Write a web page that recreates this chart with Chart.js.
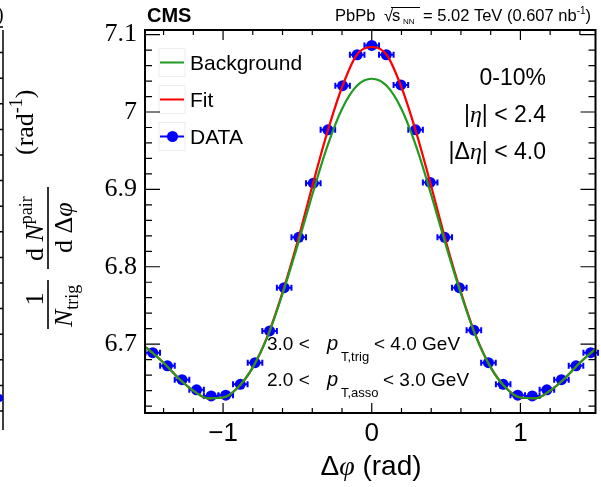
<!DOCTYPE html>
<html>
<head>
<meta charset="utf-8">
<script src="https://cdn.jsdelivr.net/npm/chart.js@4.4.1/dist/chart.umd.min.js"></script>
<style>
  html, body { margin: 0; padding: 0; background: #fff; }
  #wrap { width: 601px; height: 487px; position: relative; }
</style>
</head>
<body>
<div id="wrap"><canvas id="c" width="601" height="487"></canvas></div>
<script>
// bin centres (rad) and per-trigger pair yields
const dphi = [-1.473, -1.374, -1.276, -1.178, -1.080, -0.982, -0.884, -0.785, -0.687, -0.589, -0.491, -0.393, -0.295, -0.196, -0.098,
  0, 0.098, 0.196, 0.295, 0.393, 0.491, 0.589, 0.687, 0.785, 0.884, 0.982, 1.080, 1.178, 1.276, 1.374, 1.473];
const yields = [6.689, 6.672, 6.654, 6.641, 6.633, 6.634, 6.648, 6.676, 6.717, 6.773, 6.838, 6.908, 6.977, 7.034, 7.074,
  7.086, 7.074, 7.035, 6.977, 6.909, 6.838, 6.773, 6.718, 6.676, 6.648, 6.634, 6.633, 6.641, 6.654, 6.672, 6.689];
const binHalfWidth = 0.049;

// fitted curves, sampled along the drawn lines
const curveX = [-1.55, -1.5, -1.4, -1.3, -1.2, -1.1, -1.0, -0.9, -0.8, -0.7, -0.6, -0.5, -0.4, -0.3, -0.2, -0.1,
  0, 0.1, 0.2, 0.3, 0.4, 0.5, 0.6, 0.7, 0.8, 0.9, 1.0, 1.1, 1.2, 1.3, 1.4, 1.5, 1.55];
const background = [6.700, 6.693, 6.676, 6.656, 6.640, 6.630, 6.631, 6.644, 6.670, 6.710, 6.765, 6.827, 6.893, 6.955, 7.004, 7.034,
  7.043, 7.034, 7.004, 6.955, 6.893, 6.827, 6.765, 6.710, 6.670, 6.644, 6.631, 6.630, 6.640, 6.656, 6.676, 6.693, 6.700];
const fit = [6.700, 6.693, 6.676, 6.656, 6.640, 6.630, 6.631, 6.644, 6.670, 6.711, 6.767, 6.832, 6.904, 6.973, 7.032, 7.074,
  7.084, 7.074, 7.032, 6.973, 6.904, 6.832, 6.767, 6.711, 6.670, 6.644, 6.631, 6.630, 6.640, 6.656, 6.676, 6.693, 6.700];

const xTicks = [-1, 0, 1];
const yTicks = [6.7, 6.8, 6.9, 7.0, 7.1];

const BLUE = '#0000ff', RED = '#ff0000', GREEN = '#1f9b1f';
const SANS = '"Liberation Sans", Arial, sans-serif';
const SERIF = '"Liberation Serif", "Times New Roman", serif';

function runs(ctx, x, y, parts) {
  for (const p of parts) {
    ctx.font = p.f;
    ctx.fillText(p.t, x + (p.dx || 0), y + (p.dy || 0));
    x += ctx.measureText(p.t).width + (p.dx || 0);
  }
  return x;
}
function runsWidth(ctx, parts) {
  let w = 0;
  parts.forEach(p => { ctx.font = p.f; w += ctx.measureText(p.t).width + (p.dx || 0); });
  return w;
}

const errorBars = {
  id: 'errorBars',
  beforeDatasetDraw(chart, args) {
    if (args.index !== 0) return;
    const { ctx, scales: { x, y } } = chart;
    ctx.save();
    ctx.strokeStyle = BLUE; ctx.lineWidth = 2;
    dphi.forEach((v, i) => {
      const px0 = x.getPixelForValue(v - binHalfWidth), px1 = x.getPixelForValue(v + binHalfWidth);
      const py = y.getPixelForValue(yields[i]);
      ctx.beginPath();
      ctx.moveTo(px0, py); ctx.lineTo(px1, py);
      ctx.moveTo(px0, py - 3); ctx.lineTo(px0, py + 3);
      ctx.moveTo(px1, py - 3); ctx.lineTo(px1, py + 3);
      ctx.stroke();
    });
    ctx.restore();
  }
};

const frameAndText = {
  id: 'frameAndText',
  afterDatasetsDraw(chart) {
    const { ctx, chartArea: a, scales: { x, y } } = chart;
    ctx.save();
    // ROOT style frame with inward ticks on all four sides
    ctx.strokeStyle = '#000'; ctx.lineWidth = 1.2;
    ctx.beginPath();
    for (let v = -1.4; v <= 1.41; v += 0.2) {
      const px = x.getPixelForValue(v);
      ctx.moveTo(px, a.bottom); ctx.lineTo(px, a.bottom - 5);
      ctx.moveTo(px, a.top); ctx.lineTo(px, a.top + 5);
    }
    xTicks.forEach(v => {
      const px = x.getPixelForValue(v);
      ctx.moveTo(px, a.bottom); ctx.lineTo(px, a.bottom - 10);
      ctx.moveTo(px, a.top); ctx.lineTo(px, a.top + 10);
    });
    for (let v = 6.62; v <= 7.105; v += 0.02) {
      const py = y.getPixelForValue(v);
      ctx.moveTo(a.left, py); ctx.lineTo(a.left + 7, py);
      ctx.moveTo(a.right, py); ctx.lineTo(a.right - 7, py);
    }
    yTicks.forEach(v => {
      const py = y.getPixelForValue(v);
      ctx.moveTo(a.left, py); ctx.lineTo(a.left + 15, py);
      ctx.moveTo(a.right, py); ctx.lineTo(a.right - 15, py);
    });
    ctx.stroke();
    ctx.lineWidth = 2;
    ctx.strokeRect(a.left, a.top, a.right - a.left, a.bottom - a.top);

    ctx.fillStyle = '#000';
    ctx.textBaseline = 'alphabetic';
    ctx.textAlign = 'left';

    // header
    ctx.font = 'bold 20px ' + SANS;
    ctx.fillText('CMS', 147, 22);
    ctx.font = '16.5px ' + SANS;
    ctx.fillText('PbPb', 335, 21);
    ctx.fillText('\u221A', 384, 21);
    ctx.fillText('s', 392, 21);
    ctx.font = '8px ' + SANS;
    ctx.fillText('NN', 403, 24);
    ctx.fillRect(391, 7, 29, 1);
    runs(ctx, 423, 21, [
      { t: '= 5.02 TeV (0.607 nb', f: '16.5px ' + SANS },
      { t: '-1', f: '10px ' + SANS, dy: -7 },
      { t: ')', f: '16.5px ' + SANS }
    ]);

    // legend
    const legendRows = [
      { c: GREEN, label: 'Background', y: 62.5 },
      { c: RED, label: 'Fit', y: 99.5 },
      { c: BLUE, label: 'DATA', y: 136.5 }
    ];
    legendRows.forEach((r, i) => {
      ctx.strokeStyle = 'rgba(0,0,0,0.07)'; ctx.lineWidth = 1;
      ctx.strokeRect(159, r.y - 14, 26, 28);
      ctx.strokeStyle = r.c; ctx.lineWidth = 2;
      ctx.beginPath(); ctx.moveTo(160, r.y); ctx.lineTo(184, r.y); ctx.stroke();
      if (i === 2) {
        ctx.fillStyle = BLUE;
        ctx.beginPath(); ctx.arc(172.5, r.y, 5.5, 0, Math.PI * 2); ctx.fill();
      }
      ctx.fillStyle = '#000';
      ctx.font = '21px ' + SANS;
      ctx.fillText(r.label, 190, r.y + 7.5);
    });

    // centrality / eta selections, right aligned
    const right = 546;
    const F = '23px ' + SANS, FE = 'italic 24px ' + SERIF;
    const rowsR = [
      { y: 85, parts: [{ t: '0-10%', f: F }] },
      { y: 122, parts: [{ t: '|', f: F }, { t: '\u03B7', f: FE }, { t: '| < 2.4', f: F }] },
      { y: 159, parts: [{ t: '|\u0394', f: F }, { t: '\u03B7', f: FE }, { t: '| < 4.0', f: F }] }
    ];
    rowsR.forEach(r => runs(ctx, right - runsWidth(ctx, r.parts), r.y, r.parts));

    // pT selections
    const ptRows = [
      { y: 350, lo: '3.0 <', sub: 'T,trig', hi: '< 4.0 GeV', hx: 374 },
      { y: 386, lo: '2.0 <', sub: 'T,asso', hi: '< 3.0 GeV', hx: 383 }
    ];
    ptRows.forEach(r => {
      ctx.font = '19px ' + SANS; ctx.fillText(r.lo, 267, r.y);
      ctx.font = 'italic 20px ' + SANS; ctx.fillText('p', 327, r.y);
      ctx.font = '13px ' + SANS; ctx.fillText(r.sub, 341, r.y + 11);
      ctx.font = '19px ' + SANS; ctx.fillText(r.hi, r.hx, r.y);
    });

    // x axis title
    const xt = [{ t: '\u0394', f: '28px ' + SANS }, { t: '\u03C6', f: 'italic 28px ' + SERIF }, { t: ' (rad)', f: '28px ' + SANS }];
    runs(ctx, 371 - runsWidth(ctx, xt) / 2, 475, xt);

    // y axis title, rotated
    ctx.save();
    ctx.translate(48, 345);
    ctx.rotate(-Math.PI / 2);
    const M = '26px ' + SERIF, MI = 'italic 26px ' + SERIF, S = '18px ' + SERIF;
    ctx.font = M;
    ctx.textAlign = 'center';
    ctx.fillText('1', 46, -5);
    ctx.textAlign = 'left';
    ctx.fillRect(16, -0.8, 49, 1.6);
    runs(ctx, 18, 24, [{ t: 'N', f: MI }, { t: 'trig', f: S, dy: 6 }]);
    ctx.fillRect(76, -0.8, 82, 1.6);
    runs(ctx, 84, -5, [{ t: 'd ', f: M }, { t: 'N', f: MI }, { t: 'pair', f: S, dy: -11 }]);
    runs(ctx, 92, 24, [{ t: 'd \u0394', f: M }, { t: '\u03C6', f: MI }]);
    runs(ctx, 190, -15, [{ t: '(rad', f: M }, { t: '-1', f: S, dy: -11 }, { t: ')', f: M }]);
    ctx.restore();

    // edge of the neighbouring panel
    ctx.strokeStyle = '#000'; ctx.lineWidth = 1.5;
    ctx.beginPath(); ctx.moveTo(3, 30); ctx.lineTo(3, 430);
    for (let py = 27; py < 430; py += 25.6) { ctx.moveTo(0, py); ctx.lineTo(3, py); }
    ctx.stroke();
    ctx.font = '20px ' + SERIF; ctx.fillText(')', -3, 21);
    ctx.fillStyle = BLUE;
    ctx.beginPath(); ctx.arc(-1, 398, 4, 0, Math.PI * 2); ctx.fill();
    ctx.restore();
  }
};

new Chart(document.getElementById('c'), {
  type: 'scatter',
  data: {
    datasets: [
      {
        label: 'DATA',
        data: dphi.map((v, i) => ({ x: v, y: yields[i] })),
        backgroundColor: BLUE, borderColor: BLUE,
        pointRadius: 5.5, pointHoverRadius: 5.5, pointBorderWidth: 0,
        showLine: false, order: 3
      },
      {
        label: 'Fit',
        data: curveX.map((v, i) => ({ x: v, y: fit[i] })),
        borderColor: RED, borderWidth: 2.2, pointRadius: 0,
        showLine: true, cubicInterpolationMode: 'monotone', order: 2
      },
      {
        label: 'Background',
        data: curveX.map((v, i) => ({ x: v, y: background[i] })),
        borderColor: GREEN, borderWidth: 2.2, pointRadius: 0,
        showLine: true, cubicInterpolationMode: 'monotone', order: 1
      }
    ]
  },
  options: {
    responsive: false,
    animation: false,
    layout: { padding: { top: 30, right: 4, left: 0, bottom: 0 } },
    plugins: { legend: { display: false }, tooltip: { enabled: false } },
    scales: {
      x: {
        type: 'linear', min: -1.525, max: 1.505,
        afterBuildTicks: s => { s.ticks = xTicks.map(v => ({ value: v })); },
        afterFit: s => { s.height = 74; },
        grid: { display: false }, border: { display: false },
        ticks: {
          color: '#000', padding: -3, maxRotation: 0,
          font: { family: 'Liberation Sans', size: 26 },
          callback: v => v < 0 ? '\u2212' + Math.abs(v) : String(v)
        }
      },
      y: {
        type: 'linear', min: 6.611, max: 7.106,
        afterBuildTicks: s => { s.ticks = yTicks.map(v => ({ value: v })); },
        afterFit: s => { s.width = 145; },
        grid: { display: false }, border: { display: false },
        ticks: {
          color: '#000', padding: 0,
          font: { family: 'Liberation Serif', size: 26 },
          callback: v => v === 7 ? '7' : v.toFixed(1)
        }
      }
    }
  },
  plugins: [errorBars, frameAndText]
});
</script>
</body>
</html>
